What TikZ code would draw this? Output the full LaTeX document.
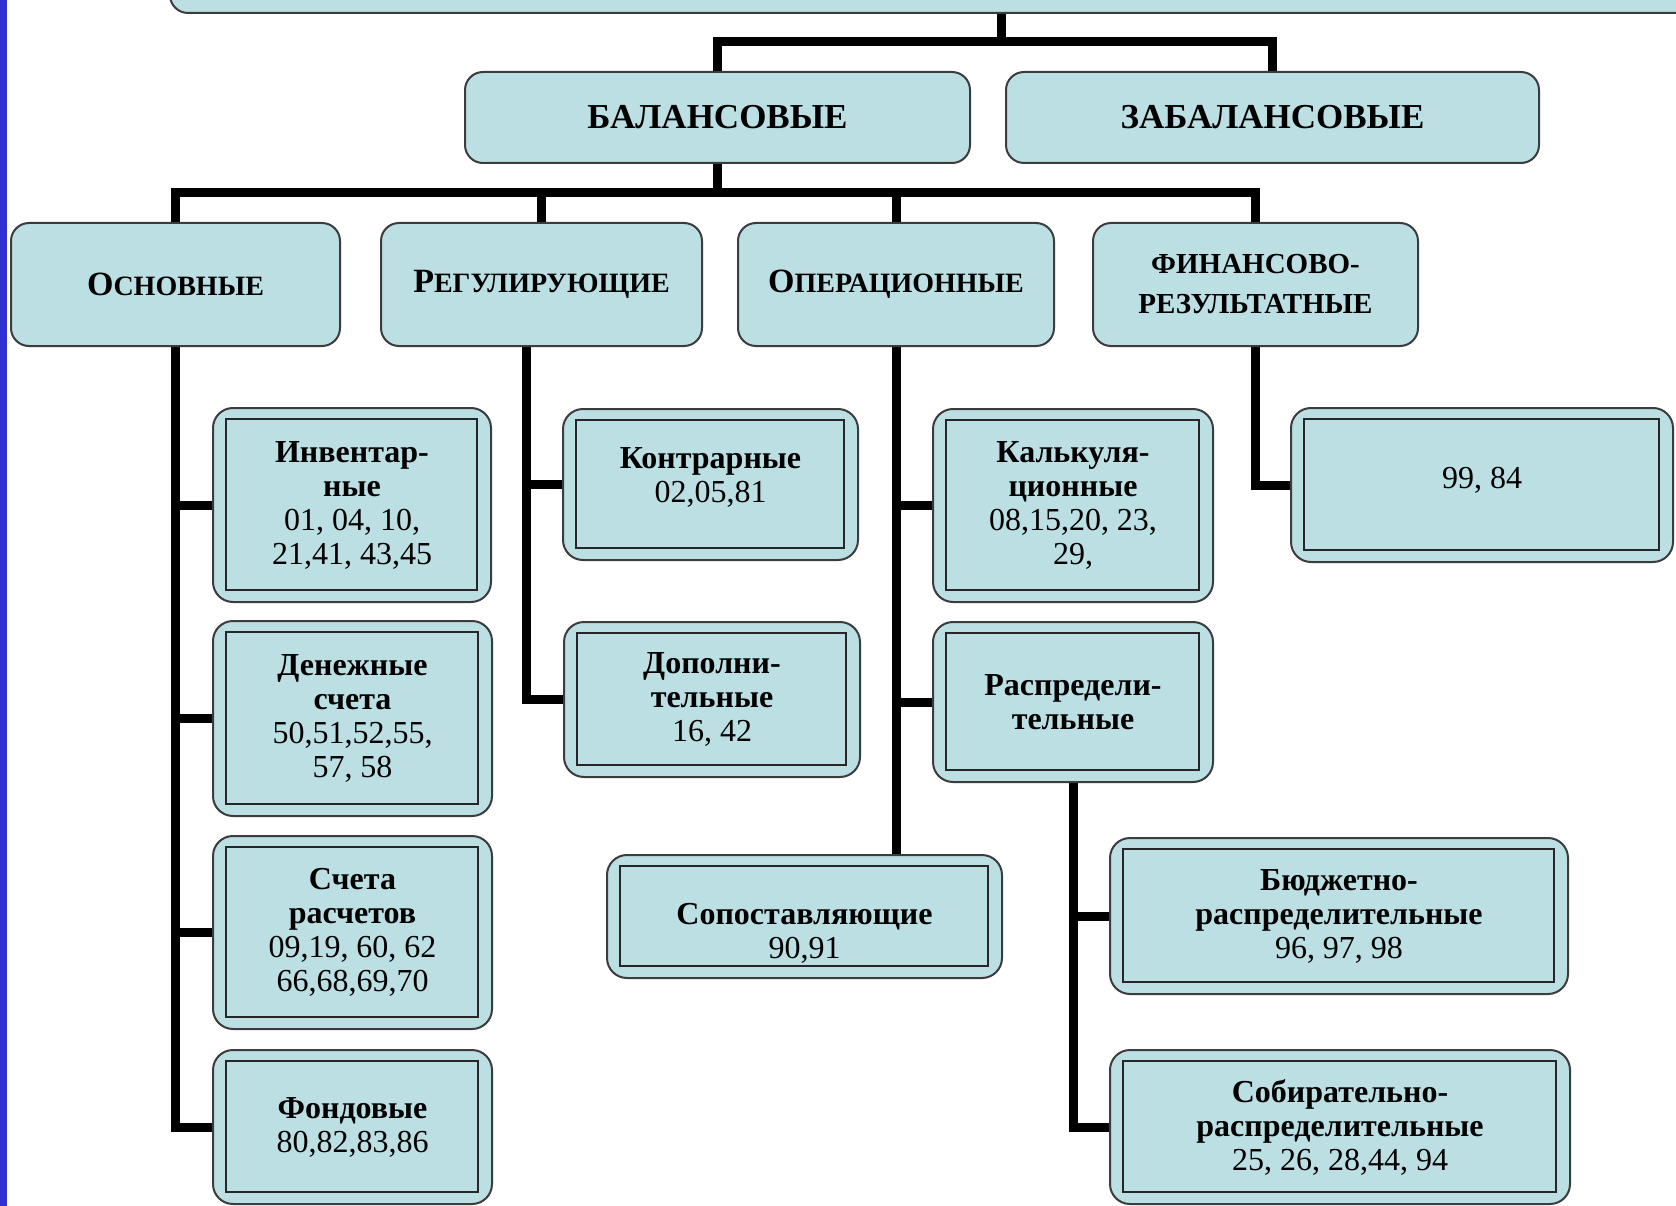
\documentclass[tikz,border=0pt]{standalone}
\usepackage{fontspec}
\setmainfont{Liberation Serif}
\definecolor{boxfill}{RGB}{188,223,228}
\definecolor{sidebar}{RGB}{48,48,208}
\definecolor{edge}{RGB}{60,60,60}
\pgfdeclarelayer{bg}
\pgfsetlayers{bg,main}
\newcommand\capsA[2]{{\fontsize{34}{36}\selectfont #1}{\fontsize{28}{30}\selectfont #2}}
\tikzset{
  hdr/.style={draw=edge, line width=2pt, fill=boxfill, rounded corners=18pt,
    inner sep=0pt, align=center, font=\bfseries},
  leaf/.style={draw=edge, line width=2pt, fill=boxfill, rounded corners=20pt,
    inner sep=0pt, align=center, font=\fontsize{32}{34}\selectfont,
    path picture={\draw[line width=2.2pt, black!85, sharp corners]
      ([xshift=13pt,yshift=12pt]path picture bounding box.south west) rectangle
      ([xshift=-14pt,yshift=-11pt]path picture bounding box.north east);}},
  conn/.style={line width=9pt, black},
}
\begin{document}
\begin{tikzpicture}[x=1pt,y=-1pt]
\useasboundingbox (0,0) rectangle (1676,1206);
\begin{pgfonlayer}{bg}
\fill[white] (0,0) rectangle (1676,1206);
\fill[sidebar] (0,0) rectangle (7,1206);
\end{pgfonlayer}
\begin{scope}
\clip (0,0) rectangle (1676,1206);
% level 0
\node[hdr, minimum width=1550pt, minimum height=60pt] (root) at (945,-17) {};
% level 1
\node[hdr, minimum width=505pt, minimum height=91pt, font=\fontsize{35}{38}\selectfont\bfseries] (bal) at (717.5,117.5) {БАЛАНСОВЫЕ};
\node[hdr, minimum width=533pt, minimum height=91pt, font=\fontsize{35}{38}\selectfont\bfseries] (zab) at (1272.5,117.5) {ЗАБАЛАНСОВЫЕ};
% level 2
\node[hdr, minimum width=329pt, minimum height=123pt] (osn) at (175.5,284.5) {\capsA{О}{СНОВНЫЕ}};
\node[hdr, minimum width=321pt, minimum height=123pt] (reg) at (541.5,284.5) {\capsA{Р}{ЕГУЛИРУЮЩИЕ}};
\node[hdr, minimum width=316pt, minimum height=123pt] (oper) at (896,284.5) {\capsA{О}{ПЕРАЦИОННЫЕ}};
\node[hdr, minimum width=325pt, minimum height=123pt, font=\fontsize{29}{40}\selectfont\bfseries] (fin) at (1255.5,284.5) {ФИНАНСОВО-\\РЕЗУЛЬТАТНЫЕ};
% leaves: Основные
\node[leaf, minimum width=278pt, minimum height=194pt] (inv) at (352,505) {\textbf{Инвентар-}\\\textbf{ные}\\01, 04, 10,\\21,41, 43,45};
\node[leaf, minimum width=279pt, minimum height=195pt] (den) at (352.5,718.5) {\textbf{Денежные}\\\textbf{счета}\\50,51,52,55,\\57, 58};
\node[leaf, minimum width=279pt, minimum height=193pt] (sch) at (352.5,932.5) {\textbf{Счета}\\\textbf{расчетов}\\09,19, 60, 62\\66,68,69,70};
\node[leaf, minimum width=279pt, minimum height=154pt] (fond) at (352.5,1127) {\textbf{Фондовые}\\80,82,83,86};
% Регулирующие
\node[leaf, minimum width=295pt, minimum height=151pt] (kon) at (710.5,484.5) {\textbf{Контрарные}\\02,05,81\\[-16pt]};
\node[leaf, minimum width=296pt, minimum height=155pt] (dop) at (712,699.5) {\textbf{Дополни-}\\\textbf{тельные}\\16, 42};
% Операционные
\node[leaf, minimum width=280pt, minimum height=193pt] (kalk) at (1073,505.5) {\textbf{Калькуля-}\\\textbf{ционные}\\08,15,20, 23,\\29,};
\node[leaf, minimum width=280pt, minimum height=160pt] (rasp) at (1073,702) {\textbf{Распредели-}\\\textbf{тельные}};
\node[leaf, minimum width=395pt, minimum height=123pt] (sop) at (804.5,916.5) {\\[20pt]\textbf{Сопоставляющие}\\90,91};
\node[leaf, minimum width=458pt, minimum height=156pt] (bud) at (1339,916) {\textbf{Бюджетно-}\\\textbf{распределительные}\\96, 97, 98};
\node[leaf, minimum width=460pt, minimum height=154pt] (sob) at (1340,1127) {\textbf{Собирательно-}\\\textbf{распределительные}\\25, 26, 28,44, 94};
% Финансово-результатные
\node[leaf, minimum width=382pt, minimum height=154pt] (n99) at (1482,485) {99, 84\\[-20pt]};
\coordinate (j0) at (1001,42);
\coordinate (j1) at (717.5,193);
\coordinate (rt) at ([xshift=-15pt]reg.south);
\begin{pgfonlayer}{bg}
\draw[conn] (root.south -| j0) -- (j0);
\draw[conn] (bal.north) |- (j0) -| (zab.north);
\draw[conn] (bal.south) -- (j1);
\draw[conn] (osn.north) |- (j1) -| (fin.north);
\draw[conn] (reg.north) -- (reg.north |- j1);
\draw[conn] (oper.north) -- (oper.north |- j1);
% Основные
\draw[conn] (osn.south) |- (fond.west);
\draw[conn] (inv.west) -- (inv.west -| osn.south);
\draw[conn] (den.west) -- (den.west -| osn.south);
\draw[conn] (sch.west) -- (sch.west -| osn.south);
% Регулирующие
\draw[conn] (rt) |- (dop.west);
\draw[conn] (kon.west) -- (kon.west -| rt);
% Операционные
\draw[conn] (oper.south) -- (oper.south |- sop.north);
\draw[conn] (kalk.west) -- (kalk.west -| oper.south);
\draw[conn] (rasp.west) -- (rasp.west -| oper.south);
% Распределительные
\draw[conn] (rasp.south) |- (sob.west);
\draw[conn] (bud.west) -- (bud.west -| rasp.south);
% Финансово
\draw[conn] (fin.south) |- (n99.west);
\end{pgfonlayer}
\end{scope}
\end{tikzpicture}
\end{document}
